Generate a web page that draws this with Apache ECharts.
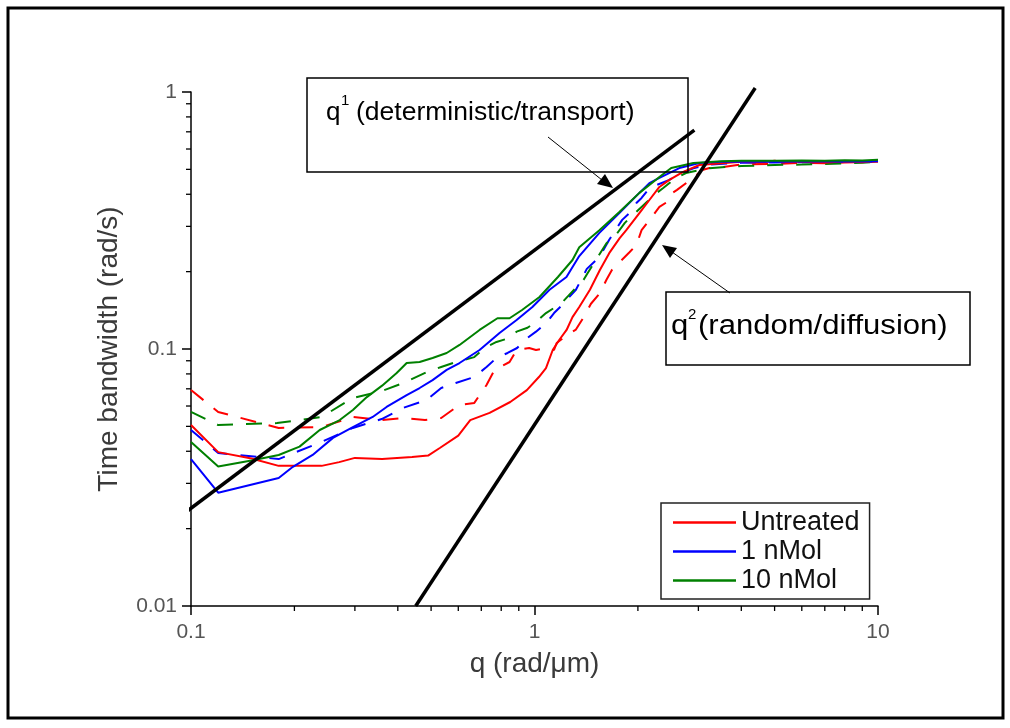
<!DOCTYPE html>
<html><head><meta charset="utf-8">
<script src="https://cdn.jsdelivr.net/npm/echarts@6/dist/echarts.min.js"></script>
<style>html,body{margin:0;padding:0;background:#fff}#c{width:1010px;height:728px}</style>
</head><body><div id="c"></div>
<script>
// ---- data ----
const xTicks = [0.1, 1, 10];
const yTicks = [0.01, 0.1, 1];
const xMinorTicks = [0.2,0.3,0.4,0.5,0.6,0.7,0.8,0.9,2,3,4,5,6,7,8,9];
const yMinorTicks = [0.02,0.03,0.04,0.05,0.06,0.07,0.08,0.09,0.2,0.3,0.4,0.5,0.6,0.7,0.8,0.9];
const seriesNames = ['Untreated', '1 nMol', '10 nMol'];

const untreatedSolid = [[0.1,0.0506],[0.12,0.0397],[0.15,0.0375],[0.18,0.0351],[0.24,0.0351],[0.27,0.0363],[0.3,0.0377],[0.36,0.0373],[0.44,0.038],[0.49,0.0385],[0.53,0.0412],[0.6,0.046],[0.65,0.0529],[0.74,0.0564],[0.85,0.0622],[0.95,0.0692],[1.03,0.0778],[1.08,0.0843],[1.13,0.0991],[1.18,0.1084],[1.24,0.1186],[1.29,0.133],[1.35,0.1457],[1.45,0.170],[1.55,0.203],[1.65,0.236],[1.77,0.27],[1.85,0.29],[2.02,0.338],[2.16,0.38],[2.31,0.427],[2.47,0.455],[2.7,0.488],[3.02,0.52],[3.5,0.528],[4,0.535],[4.5,0.53],[5,0.54],[5.5,0.532],[6,0.537],[7,0.53],[8,0.538],[9,0.533],[10,0.54]];
const untreatedDashed = [[0.1,0.0692],[0.12,0.0569],[0.18,0.0493],[0.24,0.0497],[0.296,0.0544],[0.36,0.0529],[0.415,0.0539],[0.48,0.0529],[0.535,0.0539],[0.605,0.0606],[0.668,0.0617],[0.725,0.0724],[0.765,0.0829],[0.846,0.089],[0.887,0.0991],[0.965,0.1009],[1.01,0.0991],[1.08,0.1009],[1.14,0.0991],[1.16,0.1055],[1.24,0.113],[1.32,0.119],[1.40,0.135],[1.46,0.150],[1.55,0.165],[1.62,0.186],[1.68,0.203],[1.89,0.238],[1.98,0.254],[2.05,0.29],[2.31,0.357],[2.43,0.373],[2.52,0.405],[2.6,0.416],[2.92,0.467],[3.08,0.497],[3.23,0.506],[3.5,0.51],[4,0.522],[5,0.525],[6,0.53],[7,0.528],[8,0.532],[10,0.535]];
const nmol1Solid = [[0.1,0.0373],[0.12,0.0276],[0.18,0.0315],[0.198,0.0348],[0.226,0.0387],[0.259,0.0451],[0.296,0.0497],[0.338,0.0544],[0.371,0.0595],[0.4245,0.0662],[0.463,0.0705],[0.505,0.0757],[0.555,0.0829],[0.605,0.0882],[0.692,0.0991],[0.791,0.1154],[0.887,0.1297],[0.986,0.1457],[1.106,0.170],[1.239,0.1906],[1.35,0.23],[1.545,0.283],[1.766,0.338],[2.02,0.405],[2.16,0.442],[2.31,0.463],[2.64,0.506],[3.02,0.529],[3.5,0.535],[4,0.536],[5,0.535],[6,0.537],[7,0.536],[8,0.537],[9,0.536],[10,0.538]];
const nmol1Dashed = [[0.1,0.0484],[0.12,0.0394],[0.18,0.0373],[0.24,0.0435],[0.296,0.0493],[0.359,0.0534],[0.415,0.059],[0.485,0.0633],[0.535,0.0705],[0.59,0.0737],[0.668,0.0778],[0.725,0.0851],[0.775,0.0923],[0.835,0.0965],[0.89,0.1009],[0.954,0.1104],[1.01,0.1168],[1.08,0.126],[1.14,0.138],[1.22,0.151],[1.26,0.159],[1.32,0.170],[1.42,0.205],[1.545,0.228],[1.65,0.266],[1.72,0.29],[1.8,0.318],[1.89,0.338],[1.98,0.37],[2.05,0.387],[2.16,0.423],[2.27,0.435],[2.47,0.455],[2.6,0.476],[2.9,0.505],[3.2,0.522],[4,0.53],[5,0.532],[6,0.533],[8,0.534],[10,0.536]];
const nmol10Solid = [[0.1,0.0435],[0.12,0.0349],[0.15,0.0368],[0.18,0.0387],[0.207,0.0417],[0.237,0.0484],[0.271,0.0529],[0.296,0.0579],[0.325,0.065],[0.36,0.072],[0.397,0.0806],[0.4245,0.0882],[0.463,0.089],[0.505,0.0923],[0.555,0.0965],[0.605,0.1037],[0.692,0.1186],[0.78,0.1317],[0.846,0.1317],[0.92,0.1418],[1.034,0.1593],[1.17,0.1906],[1.29,0.222],[1.35,0.249],[1.545,0.29],[1.766,0.341],[2.02,0.405],[2.31,0.467],[2.5,0.506],[2.9,0.529],[3.5,0.538],[4,0.54],[5,0.54],[6,0.541],[7,0.54],[8,0.542],[9,0.541],[10,0.545]];
const nmol10Dashed = [[0.1,0.0569],[0.12,0.0506],[0.178,0.0515],[0.24,0.0544],[0.296,0.0645],[0.359,0.0686],[0.415,0.0737],[0.485,0.0813],[0.535,0.0851],[0.59,0.089],[0.668,0.093],[0.715,0.1009],[0.775,0.1065],[0.846,0.1104],[0.887,0.1168],[0.954,0.121],[1.01,0.1275],[1.08,0.138],[1.14,0.1445],[1.2,0.151],[1.26,0.162],[1.32,0.173],[1.39,0.186],[1.43,0.198],[1.62,0.258],[1.71,0.273],[1.83,0.309],[1.89,0.323],[2.27,0.405],[2.37,0.423],[2.58,0.463],[2.76,0.484],[3.2,0.505],[4,0.515],[5,0.52],[6,0.522],[7,0.525],[8,0.528],[9,0.53],[10,0.535]];

// guide lines: slope 1 and slope 2 on log-log
const q1Line = [[0.0967,0.0232],[2.92,0.711]];
const q2Line = [[0.451,0.01],[4.39,1.036]];

// ---- chart ----
const FONT = '"Liberation Sans", Arial, sans-serif';
const RED = '#ff0000', BLUE = '#0000ff', GREEN = '#008000';
const chart = echarts.init(document.getElementById('c'), null, {renderer:'canvas'});

function curve(name, data, color, dashed) {
  return {type:'line', name, data, symbol:'none', showSymbol:false, z:3,
    lineStyle:{color, width:2, type: dashed ? [16,13] : 'solid'}, itemStyle:{color}};
}
function guide(data) {
  return {type:'line', data, symbol:'none', showSymbol:false, clip:false, silent:true, z:6,
    lineStyle:{color:'#000', width:3.5}};
}
function minorX() {
  return {type:'custom', silent:true, clip:false, z:4, data: xMinorTicks.map(v=>[v,0.01]),
    renderItem(p, api){ const c = api.coord([api.value(0), api.value(1)]);
      return {type:'line', shape:{x1:c[0],y1:c[1],x2:c[0],y2:c[1]+5}, style:{stroke:'#000', lineWidth:1.3}}; }};
}
function minorY() {
  return {type:'custom', silent:true, clip:false, z:4, data: yMinorTicks.map(v=>[0.1,v]),
    renderItem(p, api){ const c = api.coord([api.value(0), api.value(1)]);
      return {type:'line', shape:{x1:c[0]-5,y1:c[1],x2:c[0],y2:c[1]}, style:{stroke:'#000', lineWidth:1.3}}; }};
}
const fmt = v => { const t = [...xTicks, ...yTicks].find(k => Math.abs(Math.log10(k) - Math.log10(v)) < 1e-6); return t !== undefined ? String(t) : ''; };

const option = {
  animation:false,
  backgroundColor:'#fff',
  grid:{left:191, top:92, width:687, height:514, containLabel:false},
  xAxis:{type:'log', logBase:10, min:xTicks[0], max:xTicks[xTicks.length-1],
    name:'q (rad/\u03bcm)', nameLocation:'middle', nameGap:44,
    nameTextStyle:{fontSize:28, color:'#3a3a3a', fontFamily:FONT},
    axisLine:{show:true, lineStyle:{color:'#000', width:1.5}},
    axisTick:{show:true, inside:false, length:9, lineStyle:{color:'#000', width:1.5}},
    minorTick:{show:false}, splitLine:{show:false},
    axisLabel:{fontSize:21, color:'#555', fontFamily:FONT, margin:16, formatter:fmt}},
  yAxis:{type:'log', logBase:10, min:yTicks[0], max:yTicks[yTicks.length-1],
    name:'Time bandwidth (rad/s)', nameLocation:'middle', nameGap:68,
    nameTextStyle:{fontSize:28, color:'#3a3a3a', fontFamily:FONT},
    axisLine:{show:true, lineStyle:{color:'#000', width:1.5}},
    axisTick:{show:true, inside:false, length:9, lineStyle:{color:'#000', width:1.5}},
    minorTick:{show:false}, splitLine:{show:false},
    axisLabel:{fontSize:21, color:'#555', fontFamily:FONT, margin:14, formatter:fmt}},
  legend:{data:seriesNames, orient:'vertical', left:661, top:503,
    padding:[6,10,5,12], itemGap:2, itemWidth:63, itemHeight:2.5, icon:'rect',
    borderColor:'#222', borderWidth:1.5, backgroundColor:'#fff',
    textStyle:{fontSize:27, color:'#111', fontFamily:FONT}},
  series:[
    curve(seriesNames[0]+' ', untreatedDashed, RED, true),
    curve(seriesNames[1]+' ', nmol1Dashed, BLUE, true),
    curve(seriesNames[2]+' ', nmol10Dashed, GREEN, true),
    curve(seriesNames[0], untreatedSolid, RED, false),
    curve(seriesNames[1], nmol1Solid, BLUE, false),
    curve(seriesNames[2], nmol10Solid, GREEN, false),
    guide(q1Line), guide(q2Line), minorX(), minorY()
  ],
  graphic:[
    {type:'rect', z:100, shape:{x:8,y:8,width:995,height:710}, style:{fill:'none', stroke:'#000', lineWidth:3}},
    {type:'rect', z:100, shape:{x:307,y:78,width:381,height:94}, style:{fill:'none', stroke:'#000', lineWidth:1.5}},
    {type:'text', z:100, style:{x:326, y:113, text:'q', font:'26px '+FONT, fill:'#000', verticalAlign:'middle'}},
    {type:'text', z:100, style:{x:341, y:101, text:'1', font:'15px '+FONT, fill:'#000', verticalAlign:'middle'}},
    {type:'text', z:100, x:356, y:113, scaleX:1.02, style:{x:0, y:0, text:'(deterministic/transport)', font:'26px '+FONT, fill:'#000', verticalAlign:'middle'}},
    {type:'line', z:100, shape:{x1:548,y1:137,x2:602,y2:180}, style:{stroke:'#000', lineWidth:1}},
    {type:'polygon', z:100, shape:{points:[[613,188],[597,184],[605,174]]}, style:{fill:'#000'}},
    {type:'rect', z:100, shape:{x:666,y:292,width:304,height:73}, style:{fill:'none', stroke:'#000', lineWidth:1.5}},
    {type:'text', z:100, x:671, y:327, scaleX:1.15, style:{x:0, y:0, text:'q', font:'27px '+FONT, fill:'#000', verticalAlign:'middle'}},
    {type:'text', z:100, style:{x:688, y:315, text:'2', font:'15px '+FONT, fill:'#000', verticalAlign:'middle'}},
    {type:'text', z:100, x:698, y:327, scaleX:1.15, style:{x:0, y:0, text:'(random/diffusion)', font:'27px '+FONT, fill:'#000', verticalAlign:'middle'}},
    {type:'line', z:100, shape:{x1:730,y1:293,x2:672,y2:252}, style:{stroke:'#000', lineWidth:1}},
    {type:'polygon', z:100, shape:{points:[[662,245],[677,248],[670,258]]}, style:{fill:'#000'}}
  ]
};
chart.setOption(option);
</script></body></html>
